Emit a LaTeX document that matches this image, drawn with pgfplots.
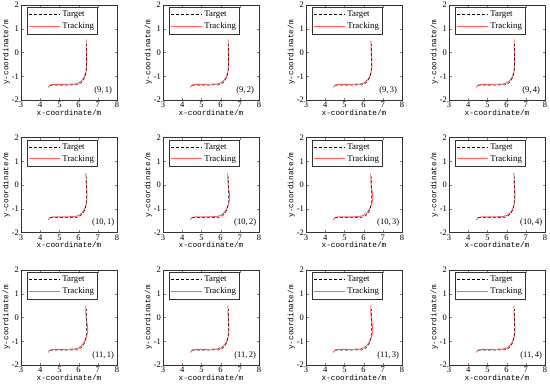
\documentclass[border=0pt]{standalone}
\usepackage{fontspec}
\setmainfont{Liberation Serif}
\newfontfamily\monofont{Liberation Mono}
\usepackage{pgfplots}
\pgfplotsset{compat=1.18}
\usepackage{pgfplotstable}

\pgfplotstableread{
x y
4.50 -1.37
5.00 -1.37
5.50 -1.37
5.90 -1.36
6.05 -1.32
6.20 -1.22
6.30 -1.08
6.37 -0.90
6.40 -0.70
6.41 -0.40
6.41 0.00
6.41 0.35
}\target

\pgfplotstableread{
x y
4.42 -1.47
4.50 -1.38
4.70 -1.34
5.20 -1.34
5.80 -1.33
6.00 -1.28
6.17 -1.18
6.30 -1.02
6.38 -0.82
6.42 -0.55
6.42 -0.20
6.40 0.20
6.40 0.55
}\trackA

\pgfplotstableread{
x y
4.42 -1.47
4.50 -1.38
4.70 -1.34
5.20 -1.34
5.80 -1.33
6.02 -1.27
6.20 -1.15
6.33 -0.97
6.43 -0.78
6.48 -0.55
6.45 -0.30
6.39 0.00
6.37 0.30
6.37 0.50
}\trackB

\pgfplotstableread{
x y
4.42 -1.47
4.50 -1.38
4.70 -1.34
5.20 -1.34
5.80 -1.33
6.02 -1.28
6.20 -1.16
6.32 -1.00
6.40 -0.80
6.44 -0.55
6.43 -0.25
6.39 0.10
6.38 0.50
}\trackC

\definecolor{trk}{RGB}{255,95,95}

\pgfplotsset{
  panel/.style={
    scale only axis, width=96pt, height=95pt,
    xmin=3, xmax=8, ymin=-2, ymax=2,
    xtick={3,4,5,6,7,8}, ytick={-2,-1,0,1,2},
    tick align=inside, axis line style={black!80}, major tick length=2.5pt,
    tick label style={font=\fontsize{8.5}{9}\selectfont},
    /pgf/number format/assume math mode=true,
    xlabel={x-coordinate/m}, ylabel={y-coordinate/m},
    label style={font=\monofont\fontsize{7.7}{8}\selectfont},
    xlabel style={yshift=5pt}, ylabel style={yshift=-5pt},
    xticklabel style={yshift=1.5pt}, yticklabel style={xshift=1.5pt},
    legend style={at={(rel axis cs:0.06,0.975)}, anchor=north west,
      font=\fontsize{8.8}{9}\selectfont, draw=black!80,
      inner xsep=1.5pt, inner ysep=1.5pt, row sep=0.3pt, cells={anchor=west}},
    legend image code/.code={\draw[##1] (0pt,0pt) -- (31pt,0pt);},
  }
}

\newcommand{\panel}[4]{%
\begin{axis}[panel, at={(#1pt,-#2pt)}, anchor=north west]
\addlegendimage{black, densely dashed, line width=0.5pt}
\addlegendentry{Target}
\addlegendimage{trk, line width=1pt}
\addlegendentry{Tracking}
\addplot[trk, line width=0.9pt, forget plot] table[x=x,y=y] {#4};
\addplot[black, densely dashed, line width=0.5pt, forget plot] table[x=x,y=y] {\target};
\node[font=\fontsize{8.5}{9}\selectfont] at (axis cs:7.28,-1.58) {#3};
\end{axis}}

\begin{document}
\begin{tikzpicture}
\useasboundingbox (0,0) rectangle (550pt,-389pt);
\panel{21}{5}{(9,\,1)}{\trackA}
\panel{163}{5}{(9,\,2)}{\trackA}
\panel{306}{5}{(9,\,3)}{\trackC}
\panel{449}{5}{(9,\,4)}{\trackA}
\panel{21}{137.5}{(10,\,1)}{\trackC}
\panel{163}{137.5}{(10,\,2)}{\trackB}
\panel{306}{137.5}{(10,\,3)}{\trackB}
\panel{449}{137.5}{(10,\,4)}{\trackC}
\panel{21}{270}{(11,\,1)}{\trackB}
\panel{163}{270}{(11,\,2)}{\trackC}
\panel{306}{270}{(11,\,3)}{\trackB}
\panel{449}{270}{(11,\,4)}{\trackC}
\end{tikzpicture}
\end{document}
